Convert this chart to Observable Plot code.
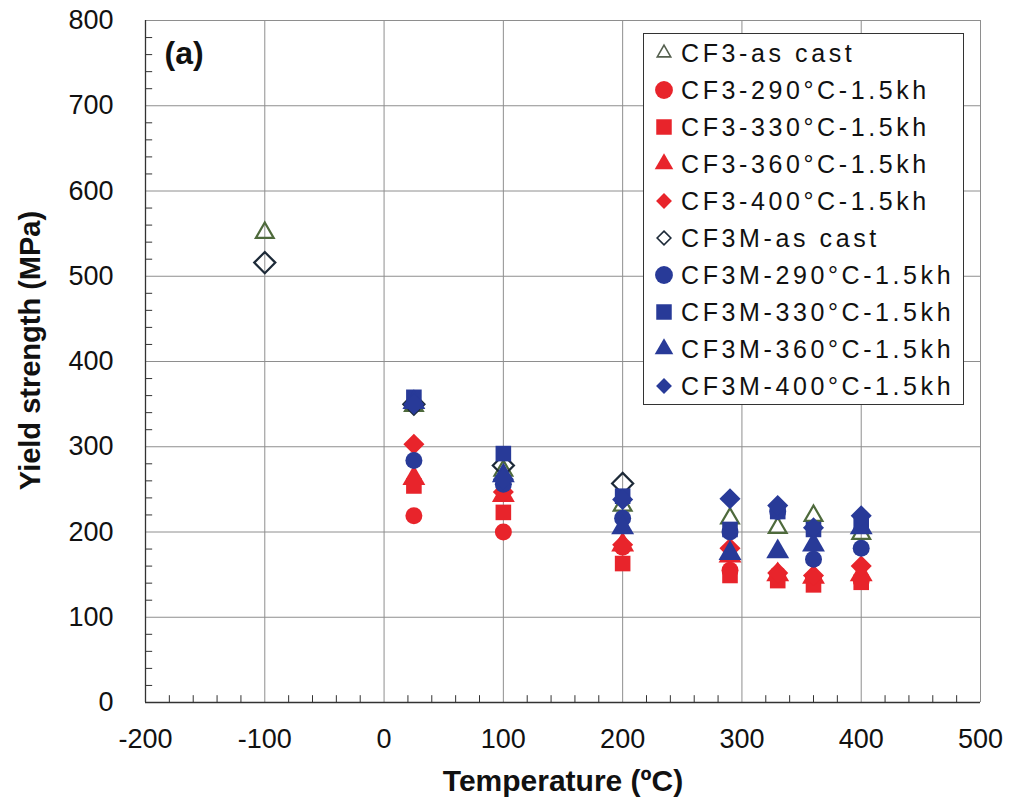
<!DOCTYPE html>
<html><head><meta charset="utf-8">
<script src="https://cdn.jsdelivr.net/npm/d3@7"></script>
<script src="https://cdn.jsdelivr.net/npm/@observablehq/plot@0.6"></script>
<style>
body{margin:0;background:#fff;}
#wrap{position:relative;width:1011px;height:803px;overflow:hidden;}
#legend{position:absolute;left:643px;top:33px;width:321px;height:372px;border:1px solid #333;background:#fff;box-sizing:border-box;}
</style></head><body><div id="wrap"></div>
<script>
// ---- data ----
const seriesNames = ["CF3-as cast","CF3-290°C-1.5kh","CF3-330°C-1.5kh","CF3-360°C-1.5kh","CF3-400°C-1.5kh",
  "CF3M-as cast","CF3M-290°C-1.5kh","CF3M-330°C-1.5kh","CF3M-360°C-1.5kh","CF3M-400°C-1.5kh"];
const asCastTemps = [-100, 25, 100, 200, 290, 330, 360, 400];
const agedTemps = [25, 100, 200, 290, 330, 360, 400];
const cf3AsCast   = [551, 348, 272, 231, 216, 205, 219, 198];
const cf3_290     = [219, 200, 182, 155, 150, 146, 143];
const cf3_330     = [254, 223, 163, 149, 143, 138, 141];
const cf3_360     = [263, 243, 185, 172, 150, 147, 150];
const cf3_400     = [303, 247, 185, 181, 152, 149, 160];
const cf3mAsCastTemps = [-100, 25, 100, 200];
const cf3mAsCast  = [516, 350, 278, 257];
const cf3m_290    = [284, 256, 216, 200, 224, 168, 181];
const cf3m_330    = [358, 292, 242, 203, 224, 203, 212];
const cf3m_360    = [352, 266, 205, 175, 177, 185, 205];
const cf3m_400    = [350, 262, 238, 239, 231, 205, 219];
const xMajorTicks = [-200, -100, 0, 100, 200, 300, 400, 500];
const yMajorTicks = [0, 100, 200, 300, 400, 500, 600, 700, 800];

// ---- build table ----
const seriesValues = [
  [asCastTemps, cf3AsCast], [agedTemps, cf3_290], [agedTemps, cf3_330], [agedTemps, cf3_360], [agedTemps, cf3_400],
  [cf3mAsCastTemps, cf3mAsCast], [agedTemps, cf3m_290], [agedTemps, cf3m_330], [agedTemps, cf3m_360], [agedTemps, cf3m_400]
];
const rows = [];
seriesNames.forEach((name, i) => {
  const [ts, vs] = seriesValues[i];
  ts.forEach((t, j) => rows.push({series: name, temp: t, ys: vs[j]}));
});

const RED = "#e8242b", BLUE = "#283a98", GREEN = "#4e6a3c", DARK = "#1d2a38";
const style = {
  "CF3-as cast": {symbol: "triangle2", fill: "none", stroke: GREEN, sw: 2.2},
  "CF3-290°C-1.5kh": {symbol: "circle", fill: RED},
  "CF3-330°C-1.5kh": {symbol: "square", fill: RED},
  "CF3-360°C-1.5kh": {symbol: "triangle", fill: RED},
  "CF3-400°C-1.5kh": {symbol: "diamond2", fill: RED},
  "CF3M-as cast": {symbol: "diamond2", fill: "none", stroke: DARK, sw: 2.2},
  "CF3M-290°C-1.5kh": {symbol: "circle", fill: BLUE},
  "CF3M-330°C-1.5kh": {symbol: "square", fill: BLUE},
  "CF3M-360°C-1.5kh": {symbol: "triangle", fill: BLUE},
  "CF3M-400°C-1.5kh": {symbol: "diamond2", fill: BLUE}
};
const symMap = {circle: d3.symbolCircle, square: d3.symbolSquare, triangle: d3.symbolTriangle,
  triangle2: d3.symbolTriangle2, diamond2: d3.symbolDiamond2};

const xMinor = d3.range(-200, 501, 20).filter(v => v % 100 !== 0);
const yMinor = d3.range(0, 801, 20).filter(v => v % 100 !== 0);

const dotMarks = seriesNames.map(name => {
  const s = style[name];
  const sub = rows.filter(r => r.series === name);
  const size = s.symbol === "circle" ? 8.5 : (s.symbol === "square" ? 8.8 : (s.symbol.startsWith("triangle") ? 8.5 : 9.5));
  return Plot.dot(sub, {x: "temp", y: "ys", symbol: () => s.symbol, r: size,
    fill: s.fill, stroke: s.stroke || "none", strokeWidth: s.sw || 0});
});

const chart = Plot.plot({
  width: 1011, height: 803,
  marginLeft: 145, marginRight: 31, marginTop: 20, marginBottom: 101,
  style: {fontFamily: "'Liberation Sans', Arial, sans-serif", background: "#fff", overflow: "visible"},
  x: {domain: [-200, 500]},
  y: {domain: [0, 800]},
  symbol: {type: "identity"},
  marks: [
    Plot.ruleX(xMajorTicks.filter(v => v > -200), {stroke: "#8e8e8e", strokeWidth: 1, strokeOpacity: 1}),
    Plot.ruleY(yMajorTicks.filter(v => v > 0), {stroke: "#8e8e8e", strokeWidth: 1, strokeOpacity: 1}),
    Plot.ruleX(xMinor, {y1: 0, y2: 8, stroke: "#333", strokeWidth: 1}),
    Plot.ruleY(yMinor, {x1: -200, x2: -194, stroke: "#333", strokeWidth: 1}),
    Plot.ruleX([-200], {stroke: "#333", strokeWidth: 1.3}),
    Plot.ruleY([0], {stroke: "#333", strokeWidth: 1.3}),
    Plot.axisX({ticks: xMajorTicks, tickSize: 0, tickPadding: 26, fontSize: 27, label: null,
      tickFormat: d => String(d), fill: "#111"}),
    Plot.axisY({ticks: yMajorTicks, tickSize: 0, tickPadding: 32, fontSize: 27, label: null,
      tickFormat: d => String(d), fill: "#111"}),
    Plot.text(["Temperature (ºC)"], {frameAnchor: "bottom", dy: 88, fontSize: 30, fontWeight: "bold", fill: "#111"}),
    Plot.text(["Yield strength (MPa)"], {frameAnchor: "left", textAnchor: "middle", rotate: -90, dx: -115, dy: -11,
      fontSize: 29, fontWeight: "bold", fill: "#111"}),
    Plot.text(["(a)"], {frameAnchor: "top-left", textAnchor: "start", lineAnchor: "top", dx: 19, dy: 21,
      fontSize: 32, fontWeight: "bold", fill: "#111"}),
    ...dotMarks
  ]
});
const wrap = document.getElementById("wrap");
wrap.appendChild(chart);

// ---- legend ----
const lg = document.createElement("div");
lg.id = "legend";
const ns = "http://www.w3.org/2000/svg";
const lsvg = document.createElementNS(ns, "svg");
lsvg.setAttribute("width", 321); lsvg.setAttribute("height", 372);
lsvg.style.fontFamily = "'Liberation Sans', Arial, sans-serif";
const legendArea = {circle: 250, square: 240, triangle: 150, triangle2: 130, diamond2: 160};
seriesNames.forEach((name, i) => {
  const s = style[name];
  const cy = 19 + i * 37;
  const g = document.createElementNS(ns, "path");
  const area = s.fill === "none" && s.symbol === "diamond2" ? 120 : legendArea[s.symbol];
  g.setAttribute("d", d3.symbol(symMap[s.symbol], area)());
  g.setAttribute("transform", `translate(20,${cy})`);
  g.setAttribute("fill", s.fill);
  if (s.stroke) { g.setAttribute("stroke", name.startsWith("CF3-") ? "#55604f" : s.stroke); g.setAttribute("stroke-width", 1.6); }
  lsvg.appendChild(g);
  const t = document.createElementNS(ns, "text");
  t.setAttribute("x", 37); t.setAttribute("y", cy + 9);
  t.setAttribute("font-size", 25); t.setAttribute("letter-spacing", 3.6); t.setAttribute("fill", "#111");
  t.textContent = name;
  lsvg.appendChild(t);
});
lg.appendChild(lsvg);
wrap.appendChild(lg);
</script></body></html>
